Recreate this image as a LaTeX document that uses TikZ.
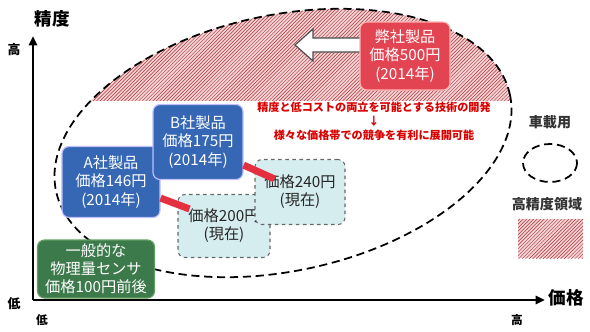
\documentclass[tikz,border=0pt]{standalone}
\usepackage{fontspec}
\setmainfont{Noto Sans CJK JP}
\usetikzlibrary{arrows.meta, positioning, patterns, calc}

\definecolor{boxblue}{HTML}{3567B4}
\definecolor{boxgreen}{HTML}{3C7A4C}
\definecolor{boxred}{HTML}{E24452}
\definecolor{boxcyan}{HTML}{D6EDF0}
\definecolor{hatchpink}{HTML}{F3D3D6}
\definecolor{barred}{HTML}{E5303F}

\begin{document}
\begin{tikzpicture}[
    x=0.03cm, y=-0.03cm,
    thick,
    company node/.style={rectangle, rounded corners=6pt, fill=boxblue, draw=blue!25, line width=1pt, text=white, align=center, font=\fontsize{13}{15.5}\selectfont, inner sep=2pt},
    current node/.style={rectangle, rounded corners=6pt, fill=boxcyan, draw=gray!80!black, dashed, line width=0.9pt, text=black!85, align=center, font=\fontsize{13}{15.5}\selectfont, inner sep=2pt},
    general node/.style={rectangle, rounded corners=6pt, fill=boxgreen, draw=green!25!gray, line width=1pt, text=white, align=center, font=\fontsize{13}{15.5}\selectfont, inner sep=1pt},
    rival node/.style={rectangle, rounded corners=6pt, fill=boxred, draw=red!30, line width=1pt, text=white, align=center, font=\fontsize{13}{15.5}\selectfont, inner sep=2pt},
    price bar/.style={barred, line width=6pt},
    region line/.style={black, line width=1.5pt, dash pattern=on 7pt off 4pt},
    hatch fill/.style={fill=hatchpink, postaction={pattern=north east lines, pattern color=red!60!black!80}},
    axis label/.style={font=\fontsize{15}{15}\selectfont\bfseries},
    axis end/.style={font=\fontsize{11}{11}\selectfont\bfseries}
]
    \useasboundingbox (0,0) rectangle (590,331);

    % High precision region
    \begin{scope}
        \clip (0,0) rectangle (590,100);
        \fill[hatch fill, rotate around={12:(283,143)}] (283,143) ellipse [x radius=232, y radius=128];
    \end{scope}
    \draw[region line, rotate around={12:(283,143)}] (283,143) ellipse [x radius=232, y radius=128];

    % Block arrow
    \draw[fill=white, draw=black!70, line width=1pt] (368,38) -- (313,38) -- (313,29) -- (295,45) -- (313,61) -- (313,52) -- (368,52);

    % Nodes
    \node[rival node, minimum width=2.7cm, minimum height=2.04cm] (R) at (405,56) {弊社製品\\価格500円\\(2014年)};
    \node[company node, minimum width=2.94cm, minimum height=2.13cm] (A) at (111,182) {A社製品\\価格146円\\(2014年)};
    \node[company node, minimum width=2.7cm, minimum height=2.25cm] (B) at (198,142) {B社製品\\価格175円\\(2014年)};
    \node[current node, minimum width=2.76cm, minimum height=1.89cm] (P200) at (224,226) {価格200円\\(現在)};
    \node[current node, minimum width=2.7cm, minimum height=1.95cm] (P240) at (300,192) {価格240円\\(現在)};
    \node[general node, minimum width=3.51cm, minimum height=1.74cm] (G) at (96,269) {一般的な\\物理量センサ\\価格100円前後};

    % Price changes
    \draw[price bar] ($(A.south east)+(0,-20)$) -- ($(P200.north west)+(12,15)$);
    \draw[price bar] ($(B.south east)+(0,-15)$) -- ($(P240.north west)+(20,20)$);

    % Message
    \node[text=red!85!black, align=center, font=\fontsize{9.5}{12}\selectfont\bfseries] (msg) at (374,121) {精度と低コストの両立を可能とする技術の開発\\↓\\様々な価格帯での競争を有利に展開可能};

    % Axes
    \coordinate (O) at (33,300);
    \coordinate (Y) at (33,36);
    \coordinate (X) at (545,300);
    \draw[-{Triangle[length=8pt, width=7pt]}, line width=2pt] (O) -- (Y);
    \draw[-{Triangle[length=8pt, width=7pt]}, line width=2pt] (O) -- (X);
    \node[axis label] (ylab) at (52,19) {精度};
    \node[axis end] (yhi) at (14,50) {高};
    \node[axis end] (ylo) at (14,304) {低};
    \node[axis label] (xlab) at (566,298) {価格};
    \node[axis end, font=\fontsize{10}{10}\selectfont\bfseries] (xlo) at (42,320) {低};
    \node[axis end, font=\fontsize{10}{10}\selectfont\bfseries] (xhi) at (517,320) {高};

    % Legend
    \node[font=\fontsize{12}{12}\selectfont\bfseries, text=black!80] (car) at (550,122) {車載用};
    \draw[region line] (550,163) ellipse [x radius=27, y radius=19];
    \node[font=\fontsize{12}{12}\selectfont\bfseries, text=black!80] (hp) at (547,204) {高精度領域};
    \fill[hatch fill] (518,219) rectangle (583,258);
\end{tikzpicture}
\end{document}
